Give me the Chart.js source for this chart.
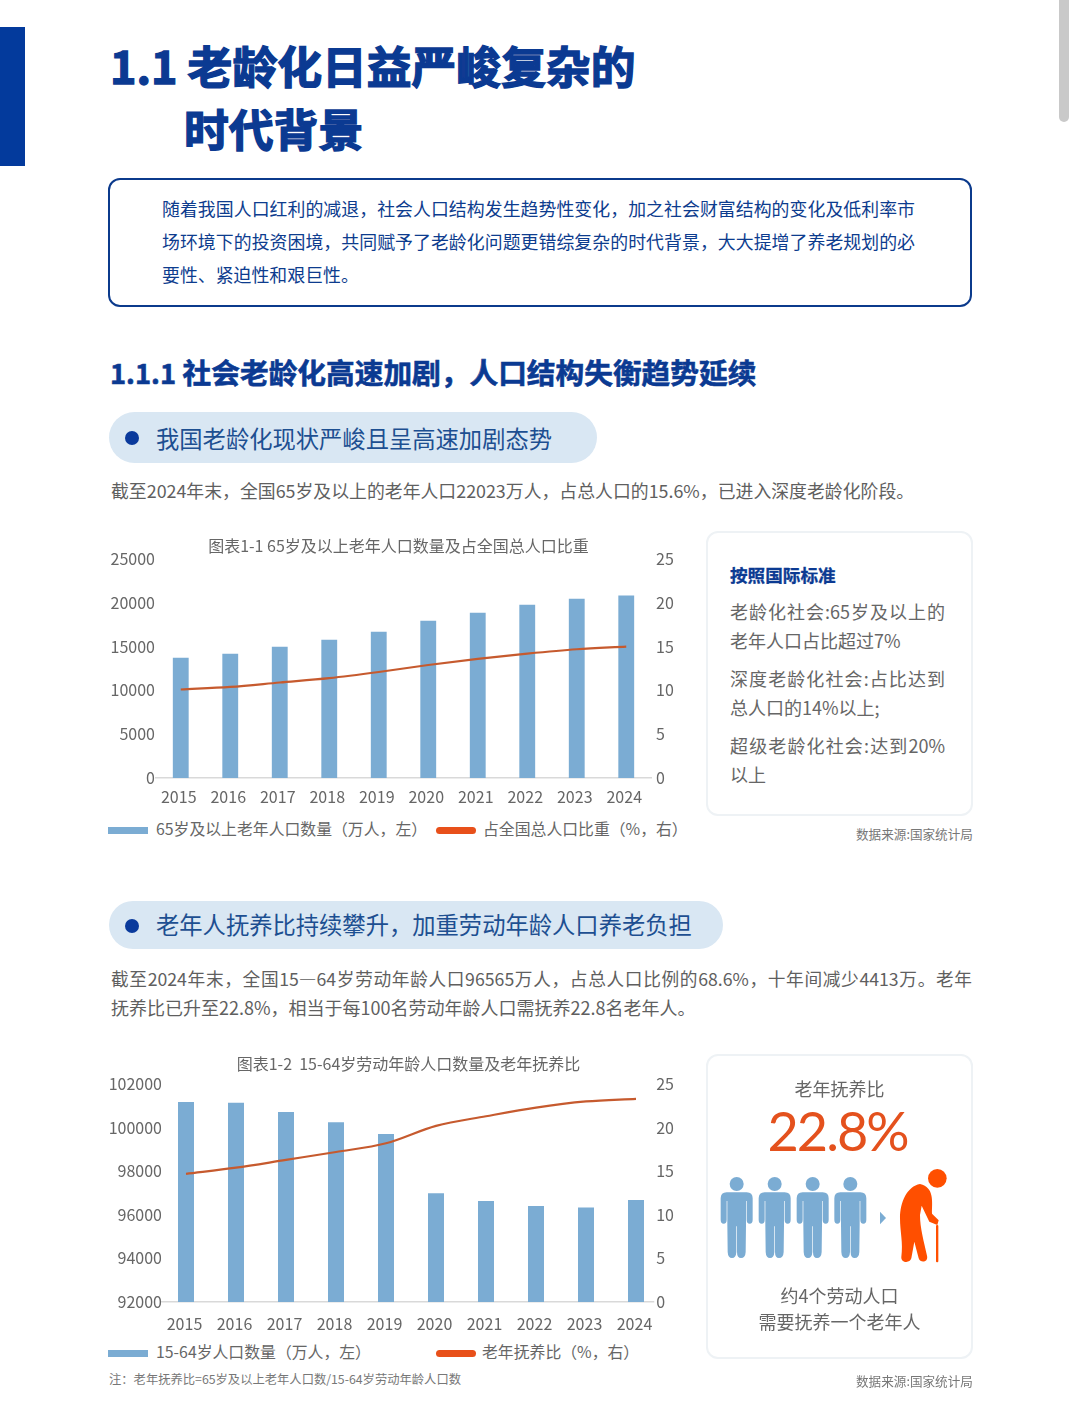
<!DOCTYPE html>
<html lang="zh-CN">
<head>
<meta charset="utf-8">
<title>老龄化时代背景</title>
<script src="https://cdn.jsdelivr.net/npm/chart.js@4"></script>
<style>
  html, body { margin: 0; padding: 0; background: #fff; }
  body { position: relative; width: 1080px; height: 1420px; overflow: hidden;
         font-family: "Noto Sans CJK SC", "Noto Sans", sans-serif; color: #666; }
  .abs { position: absolute; white-space: nowrap; }
  .just { text-align: justify; text-align-last: justify; white-space: normal; }
  .navy { color: #0b3a92; font-weight: 700; }
  .pill { position: absolute; background: #d9e7f3; border-radius: 26px; }
  .dot { position: absolute; width: 14px; height: 14px; border-radius: 50%; background: #0a3a9c; }
  .pill-text { color: #1d4f91; font-size: 23.3px; line-height: 30px; }
  .card { position: absolute; box-sizing: border-box; background: #fff; border: 2px solid #eef2f5; border-radius: 12px; }
  .swatch { position: absolute; width: 40px; height: 7px; }
  .bar-key { background: #7bacd3; }
  .line-key { background: #e8501a; border-radius: 4px; }
  canvas { position: absolute; }
</style>
</head>
<body>

<div class="abs" style="left:0;top:27px;width:25px;height:139px;background:#033a9c"></div>
<div class="abs" style="left:1059px;top:-10px;width:10px;height:132px;background:#c9c9c9;border-radius:5px"></div>

<div class="abs navy" style="left:110px;top:33.5px;font-size:44.8px;line-height:62px;-webkit-text-stroke:1.4px #0b3a92">1.1 老龄化日益严峻复杂的</div>
<div class="abs navy" style="left:184px;top:97px;font-size:44.8px;line-height:62px;-webkit-text-stroke:1.4px #0b3a92">时代背景</div>

<div class="abs" style="left:108px;top:178px;width:860px;height:125px;border:2px solid #0b3a8c;border-radius:12px"></div>
<div class="abs just" style="left:162px;top:192px;width:753px;font-size:17.9px;line-height:33px;color:#0d3c8e;text-align-last:left">
  <div class="just">随着我国人口红利的减退，社会人口结构发生趋势性变化，加之社会财富结构的变化及低利率市</div>
  <div class="just">场环境下的投资困境，共同赋予了老龄化问题更错综复杂的时代背景，大大提增了养老规划的必</div>
  <div>要性、紧迫性和艰巨性。</div>
</div>

<div class="abs navy" style="left:110px;top:352px;font-size:28.7px;line-height:40px;-webkit-text-stroke:.6px #0b3a92"><span style="font-size:27.3px">1.1.1</span> 社会老龄化高速加剧，人口结构失衡趋势延续</div>

<div class="pill" style="left:109px;top:412px;width:488px;height:51px"></div>
<div class="dot" style="left:125px;top:431px"></div>
<div class="abs pill-text" style="left:156px;top:422.5px">我国老龄化现状严峻且呈高速加剧态势</div>
<div class="abs" style="left:111px;top:477px;font-size:17.88px;line-height:26px;color:#5f5f5f">截至2024年末，全国65岁及以上的老年人口22023万人，占总人口的15.6%，已进入深度老龄化阶段。</div>

<canvas id="agedChart" width="603" height="280" style="left:97px;top:530px"></canvas>
<div class="swatch bar-key" style="left:108px;top:827px"></div>
<div class="abs" id="agedKeyBar" style="left:156px;top:817px;font-size:15.85px;line-height:24px"></div>
<div class="swatch line-key" style="left:436px;top:827px"></div>
<div class="abs" id="agedKeyLine" style="left:483px;top:817px;font-size:15.85px;line-height:24px"></div>

<div class="card" style="left:706px;top:531px;width:267px;height:285px"></div>
<div class="abs navy" style="left:730px;top:561.5px;font-size:17.6px;line-height:26px;-webkit-text-stroke:.3px #0b3a92">按照国际标准</div>
<div class="abs just" style="left:730px;top:598px;width:215px;font-size:18px;line-height:26px">老龄化社会:65岁及以上的</div>
<div class="abs" style="left:730px;top:627px;font-size:18px;line-height:26px">老年人口占比超过7%</div>
<div class="abs just" style="left:730px;top:665px;width:215px;font-size:18px;line-height:26px">深度老龄化社会:占比达到</div>
<div class="abs" style="left:730px;top:694px;font-size:18px;line-height:26px">总人口的14%以上;</div>
<div class="abs just" style="left:730px;top:732px;width:215px;font-size:18px;line-height:26px">超级老龄化社会:达到20%</div>
<div class="abs" style="left:730px;top:761px;font-size:18px;line-height:26px">以上</div>
<div class="abs" style="left:856px;top:825px;font-size:12.6px;line-height:18px;color:#777">数据来源:国家统计局</div>

<div class="pill" style="left:109px;top:901px;width:614px;height:48px"></div>
<div class="dot" style="left:125px;top:919px"></div>
<div class="abs pill-text" style="left:156px;top:909px">老年人抚养比持续攀升，加重劳动年龄人口养老负担</div>
<div class="abs just" style="left:111px;top:965px;width:861px;font-size:17.7px;line-height:26px;color:#5f5f5f">截至2024年末，全国15—64岁劳动年龄人口96565万人，占总人口比例的68.6%，十年间减少4413万。老年</div>
<div class="abs" style="left:111px;top:994px;font-size:18px;line-height:26px;color:#5f5f5f">抚养比已升至22.8%，相当于每100名劳动年龄人口需抚养22.8名老年人。</div>

<canvas id="laborChart" width="601" height="284" style="left:108px;top:1050px"></canvas>
<div class="swatch bar-key" style="left:108px;top:1350px"></div>
<div class="abs" id="laborKeyBar" style="left:156px;top:1340px;font-size:15.85px;line-height:24px"></div>
<div class="swatch line-key" style="left:436px;top:1350px"></div>
<div class="abs" id="laborKeyLine" style="left:482px;top:1340px;font-size:15.85px;line-height:24px"></div>
<div class="abs" style="left:109px;top:1370px;font-size:12.3px;line-height:18px;color:#777">注：老年抚养比=65岁及以上老年人口数/15-64岁劳动年龄人口数</div>

<div class="card" style="left:706px;top:1054px;width:267px;height:305px"></div>
<div class="abs" style="left:706px;width:267px;top:1075px;text-align:center;font-size:18px;line-height:26px">老年抚养比</div>
<div class="abs" style="left:704px;width:267px;top:1097px;text-align:center;font-family:Lato,sans-serif;font-size:54px;line-height:68px;letter-spacing:-2px;color:#e4511d">22.8%</div>

<!-- people icons, drawn at 3x inside the 280x350 box -->
<svg class="abs" style="left:700px;top:1045px" width="280" height="350" viewBox="0 0 840 1050">
  <defs>
    <g id="person" fill="#7bacd3">
      <circle cx="48" cy="21" r="21"/>
      <path d="M18 46 H78 Q96 46 96 64 V128 Q96 140 87 140 Q78 140 78 128 V72 H76 V142 L75 225 Q74 243 61 243 Q49 243 49 225 V148 H47 V225 Q46 243 34 243 Q22 243 21 225 L20 142 V72 H18 V128 Q18 140 9 140 Q0 140 0 128 V64 Q0 46 18 46 Z"/>
    </g>
  </defs>
  <use href="#person" x="62" y="396"/>
  <use href="#person" x="176" y="396"/>
  <use href="#person" x="290" y="396"/>
  <use href="#person" x="403" y="396"/>
  <path d="M540 500 L558 519 L540 538 Z" fill="#7bacd3"/>
  <g fill="#ff4f00">
    <circle cx="712" cy="400" r="28"/>
    <path d="M660 417 C622 424 600 470 600 520 C600 560 610 595 604 635 C602 654 630 656 634 640 L643 590 L656 640 C661 656 686 652 681 632 C672 590 660 550 660 510 L665 482 L688 530 L712 540 L716 526 L696 506 C696 470 704 428 660 417 Z"/>
    <rect x="708" y="540" width="7" height="112" rx="3"/>
  </g>
</svg>

<div class="abs" style="left:706px;width:267px;top:1282px;text-align:center;font-size:18px;line-height:26px">约4个劳动人口</div>
<div class="abs" style="left:706px;width:267px;top:1308px;text-align:center;font-size:18px;line-height:26px">需要抚养一个老年人</div>
<div class="abs" style="left:856px;top:1372px;font-size:12.6px;line-height:18px;color:#777">数据来源:国家统计局</div>

<script>
const years = ["2015", "2016", "2017", "2018", "2019", "2020", "2021", "2022", "2023", "2024"];

// 65岁及以上人口（万人）与占比（%）
const agedPopulation = [13740, 14190, 14990, 15790, 16700, 17960, 18870, 19790, 20470, 20820];
const agedShare = [10.1, 10.4, 10.9, 11.4, 12.1, 12.9, 13.6, 14.2, 14.7, 15.0];

// 15-64岁人口（万人）与老年抚养比（%）
const laborPopulation = [101170, 101140, 100720, 100240, 99710, 96990, 96630, 96400, 96330, 96680];
const dependencyRatio = [14.7, 15.4, 16.3, 17.2, 18.2, 20.2, 21.3, 22.3, 23.0, 23.3];

const agedBarLabel = "65岁及以上老年人口数量（万人，左）";
const agedLineLabel = "占全国总人口比重（%，右）";
const laborBarLabel = "15-64岁人口数量（万人，左）";
const laborLineLabel = "老年抚养比（%，右）";

const tickFont = { family: '"Noto Sans CJK SC", sans-serif', size: 16 };
const tickColor = "#666";

/* ===== Chart Setup ===== */

function createChart(id, cfg) {
  return new Chart(document.getElementById(id), {
    data: {
      labels: years,
      datasets: [
        {
          type: "line",
          label: cfg.lineLabel,
          data: cfg.lineData,
          yAxisID: "yRight",
          borderColor: "#c65a2e",
          borderWidth: 2.2,
          pointRadius: 0,
          cubicInterpolationMode: "monotone",
          order: 0
        },
        {
          type: "bar",
          label: cfg.barLabel,
          data: cfg.barData,
          yAxisID: "yLeft",
          backgroundColor: "#7bacd3",
          barPercentage: 0.32,
          categoryPercentage: 1,
          order: 1
        }
      ]
    },
    options: {
      responsive: false,
      animation: false,
      layout: { padding: 0 },
      plugins: {
        legend: { display: false },
        tooltip: { enabled: false },
        title: {
          display: true,
          text: cfg.title,
          color: tickColor,
          font: { family: tickFont.family, size: 16, weight: "normal" },
          padding: cfg.titlePadding
        }
      },
      scales: {
        x: {
          grid: { display: false, drawTicks: false },
          border: { color: "#d9d9d9", width: 1.5, z: -1 },
          ticks: {
            color: tickColor, font: tickFont, padding: cfg.xPad,
            labelOffset: cfg.xOffset, autoSkip: false, maxRotation: 0
          },
          afterFit: (s) => { s.height = 32; }
        },
        yLeft: {
          position: "left",
          min: cfg.leftMin,
          max: cfg.leftMax,
          grid: { display: false, drawTicks: false },
          border: { display: false },
          ticks: {
            stepSize: cfg.leftStep, color: tickColor, font: tickFont,
            padding: cfg.leftPad, callback: (v) => v
          },
          afterFit: (s) => { s.width = cfg.leftWidth; }
        },
        yRight: {
          position: "right",
          min: 0,
          max: 25,
          grid: { display: false, drawTicks: false },
          border: { display: false },
          ticks: cfg.rightTicks,
          afterFit: (s) => { s.width = cfg.rightWidth; }
        }
      }
    }
  });
}

createChart("agedChart", {
  title: "图表1-1 65岁及以上老年人口数量及占全国总人口比重",
  titlePadding: { top: 6.4, bottom: 3.4 },
  barLabel: agedBarLabel,
  lineLabel: agedLineLabel,
  barData: agedPopulation,
  lineData: agedShare,
  leftMin: 0, leftMax: 25000, leftStep: 5000,
  leftWidth: 59, rightWidth: 49, leftPad: 1,
  xPad: 9, xOffset: -2,
  rightTicks: { stepSize: 5, color: tickColor, font: tickFont, padding: 5 }
});

// The right labels sit over the end of the plot here, so they are mirrored
// (no clipping) and padded with a figure space to stay left-aligned.
createChart("laborChart", {
  title: "图表1-2  15-64岁劳动年龄人口数量及老年抚养比",
  titlePadding: { top: 4.4, bottom: 10.4 },
  barLabel: laborBarLabel,
  lineLabel: laborLineLabel,
  barData: laborPopulation,
  lineData: dependencyRatio,
  leftMin: 92000, leftMax: 102000, leftStep: 2000,
  leftWidth: 53, rightWidth: 48, leftPad: -1,
  xPad: 12, xOffset: -1.5,
  rightTicks: {
    stepSize: 5, color: tickColor, font: tickFont, mirror: true, padding: 13,
    callback: (v) => (v < 10 ? v + "\u2007" : v),
    showLabelBackdrop: true, backdropColor: "#fff", backdropPadding: 2
  }
});

/* ===== Legend Text ===== */

document.getElementById("agedKeyBar").textContent = agedBarLabel;
document.getElementById("agedKeyLine").textContent = agedLineLabel;
document.getElementById("laborKeyBar").textContent = laborBarLabel;
document.getElementById("laborKeyLine").textContent = laborLineLabel;
</script>
</body>
</html>
